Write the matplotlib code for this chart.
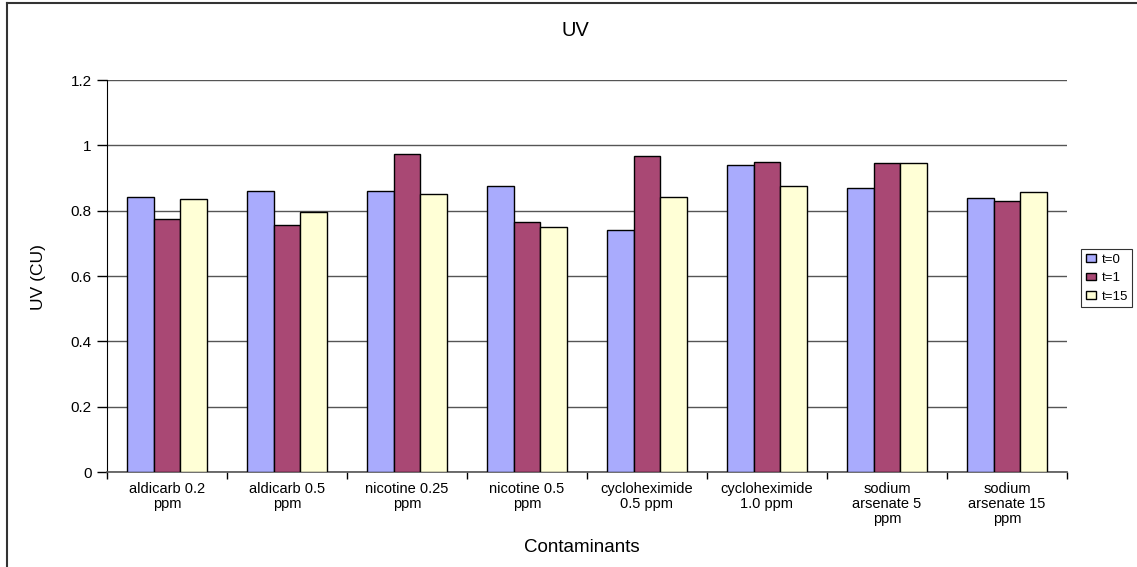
#!/usr/bin/env python3
"""UV readings per contaminant at t=0, t=1 and t=15."""

import matplotlib
matplotlib.use('Agg')
import matplotlib.pyplot as plt
import matplotlib.ticker as ticker
from matplotlib.lines import Line2D
import numpy as np

plt.rcParams['font.family'] = ['Liberation Sans', 'DejaVu Sans']

CATEGORIES = [
    'aldicarb 0.2\nppm', 'aldicarb 0.5\nppm', 'nicotine 0.25\nppm',
    'nicotine 0.5\nppm', 'cycloheximide\n0.5 ppm', 'cycloheximide\n1.0 ppm',
    'sodium\narsenate 5\nppm', 'sodium\narsenate 15\nppm',
]
SERIES = ['t=0', 't=1', 't=15']
T0 = [0.843, 0.859, 0.859, 0.876, 0.742, 0.939, 0.868, 0.840]
T1 = [0.773, 0.757, 0.974, 0.765, 0.966, 0.950, 0.945, 0.829]
T15 = [0.835, 0.795, 0.852, 0.749, 0.843, 0.876, 0.945, 0.856]
Y_TICKS = [0, 0.2, 0.4, 0.6, 0.8, 1.0, 1.2]

COLORS = ['#A9ABFD', '#A94874', '#FFFFD6']

W, H = 1137, 567


def main():
    fig = plt.figure(figsize=(W / 100, H / 100), dpi=100)
    ax = fig.add_axes([107 / W, 1 - 472 / H, 960 / W, 392 / H])

    x = np.arange(len(CATEGORIES))
    bw = 0.222
    for i, (name, vals) in enumerate(zip(SERIES, [T0, T1, T15])):
        ax.bar(x + (i - 1) * bw, vals, bw, color=COLORS[i],
               edgecolor='black', linewidth=1.0, label=name, zorder=3)

    ax.set_xlim(-0.5, len(CATEGORIES) - 0.5)
    ax.set_ylim(0, 1.2)

    # gridlines at every y tick
    ax.set_yticks(Y_TICKS)
    ax.yaxis.set_major_formatter(ticker.FuncFormatter(lambda v, _: f'{v:g}'))
    ax.grid(True, axis='y', color='#555555', linewidth=1.0, zorder=0)
    ax.tick_params(axis='y', direction='out', length=7, width=1,
                   labelsize=11, pad=4, color='black')

    # category labels centred, tick marks on group boundaries
    ax.set_xticks(x)
    ax.set_xticklabels(CATEGORIES, fontsize=10.5, linespacing=1.1)
    ax.set_xticks(np.arange(len(CATEGORIES) + 1) - 0.5, minor=True)
    ax.tick_params(axis='x', which='major', length=0, pad=7)
    ax.tick_params(axis='x', which='minor', direction='out', length=5,
                   width=1, color='black')

    for side in ('top', 'right'):
        ax.spines[side].set_visible(False)
    ax.spines['left'].set_color('black')
    ax.spines['bottom'].set_color('#555555')
    ax.spines['bottom'].set_linewidth(1.2)

    fig.text(575 / W, 1 - 30 / H, 'UV', ha='center', va='center', fontsize=14.5)
    fig.text(582 / W, 1 - 547 / H, 'Contaminants', ha='center', va='center',
             fontsize=13.5)
    fig.text(38 / W, 1 - 277 / H, 'UV (CU)', ha='center', va='center',
             rotation=90, fontsize=12.5)

    leg = fig.legend(loc='upper left', bbox_to_anchor=(1081 / W, 1 - 249 / H),
                     fontsize=9.5, frameon=True, fancybox=False,
                     edgecolor='black', handlelength=0.8, handleheight=0.5,
                     handletextpad=0.4, borderpad=0.35, labelspacing=0.5,
                     borderaxespad=0)
    leg.get_frame().set_linewidth(0.8)

    # outer chart border (left and top edges visible)
    fig.add_artist(Line2D([7 / W, 7 / W], [0, 1 - 3 / H], color='#333333',
                          linewidth=1.5, transform=fig.transFigure))
    fig.add_artist(Line2D([7 / W, 1], [1 - 3 / H, 1 - 3 / H], color='#333333',
                          linewidth=1.5, transform=fig.transFigure))

    fig.savefig('out.png', dpi=100)
    plt.close(fig)


if __name__ == '__main__':
    main()
